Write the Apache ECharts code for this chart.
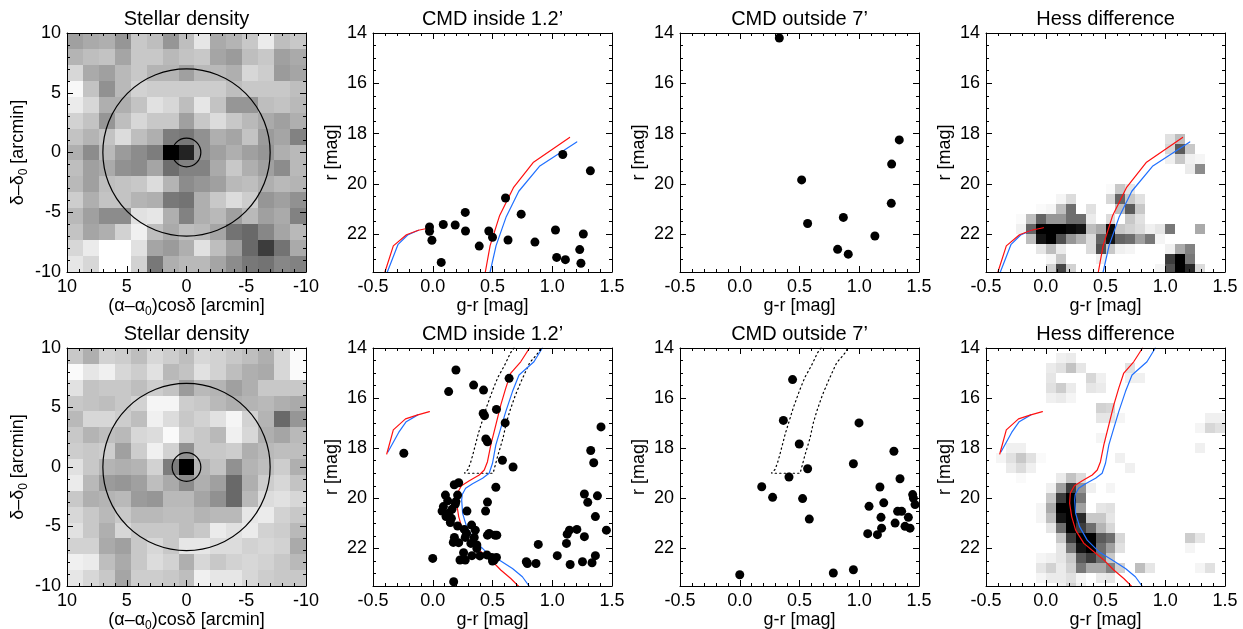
<!DOCTYPE html>
<html><head><meta charset="utf-8">
<script src="https://cdn.jsdelivr.net/npm/echarts@6.0.0/dist/echarts.min.js"></script>
<style>html,body{margin:0;padding:0;background:#fff}#c{width:1243px;height:629px}</style>
</head><body><div id="c"></div>
<script>
// ---------------- DATA ----------------
// stellar density maps: 15x15 cells over -10..10 arcmin, row 0 = top (delta=+10), col 0 = left (alpha=+10); values = density (darkness)
const densityTop = [
[95,85,80,105,55,65,105,65,25,85,75,55,20,65,55],
[75,65,60,90,55,55,70,60,55,90,100,65,55,95,85],
[40,85,95,70,55,75,75,95,70,70,80,40,50,100,90],
[7,60,110,70,45,50,50,50,50,50,65,55,55,55,65],
[20,40,80,80,60,30,40,65,25,60,105,105,65,60,70],
[45,60,105,65,40,55,55,95,55,35,55,70,85,95,80],
[60,75,60,35,65,80,130,135,110,80,90,60,100,90,125],
[80,115,70,100,115,130,255,220,110,95,80,95,105,80,70],
[65,95,85,110,115,90,145,125,125,85,55,80,95,115,70],
[70,95,65,60,55,35,75,115,105,95,70,65,80,70,75],
[50,80,60,60,75,80,135,140,80,55,35,50,105,95,110],
[70,95,115,115,30,25,80,125,80,70,95,70,95,85,125],
[60,90,80,45,15,65,85,65,70,90,140,150,120,90,70],
[40,20,0,0,30,90,100,80,30,65,95,150,195,140,85],
[25,40,0,0,45,135,80,70,70,90,115,135,140,120,125]
];
const densityBottom = [
[55,80,45,50,65,40,50,65,40,45,55,65,80,40,5],
[5,25,15,40,50,30,70,60,30,45,65,80,85,40,5],
[30,60,55,55,65,50,60,100,70,75,95,80,55,55,55],
[55,60,65,55,45,10,10,50,55,70,80,75,70,80,85],
[70,40,40,50,65,15,35,55,45,30,10,45,75,150,105],
[55,75,65,70,40,35,5,45,55,70,15,40,80,90,70],
[50,55,50,95,50,15,45,110,55,55,50,80,70,65,65],
[30,55,75,80,75,45,130,255,75,60,110,75,65,50,80],
[20,70,100,105,95,65,85,115,80,95,150,80,50,40,60],
[55,80,75,70,100,105,70,70,90,110,150,70,35,30,40],
[40,55,70,55,70,70,65,65,75,70,70,25,20,45,55],
[30,55,80,40,55,55,55,65,55,20,30,20,45,50,70],
[45,45,85,95,55,40,55,25,25,35,35,45,40,45,85],
[15,20,65,85,55,35,45,80,40,55,45,40,45,55,70],
[25,40,55,90,50,50,55,65,15,25,25,40,50,55,55]
];
const densityCircles = [[0, 0, 7], [0, 0, 1.2]];   // [x, y, radius arcmin]

// CMD stars [g-r, r]
const cmdInsideTop = [[1.088,18.83],[1.319,19.48],[0.609,20.56],[0.74,21.2],[0.272,21.13],[-0.027,21.71],[-0.027,21.88],[-0.007,22.24],[0.088,21.61],[0.188,21.63],[0.274,21.87],[0.071,23.12],[0.389,22.47],[0.469,21.87],[0.50,22.12],[0.63,22.23],[0.855,22.31],[1.027,21.83],[1.26,21.99],[1.037,22.92],[1.11,23.01],[1.23,22.61],[1.24,23.15]];
const cmdOutsideTop = [[0.331,14.2],[0.518,19.84],[0.568,21.57],[0.867,21.33],[0.819,22.6],[0.908,22.79],[1.131,22.07],[1.335,18.25],[1.271,19.21],[1.268,20.77]];
const cmdInsideBottom = [[0.194,14.88],[0.133,15.74],[0.342,15.48],[0.425,15.68],[0.639,15.21],[0.533,16.45],[0.422,16.61],[0.433,16.7],[0.606,16.99],[0.444,17.63],[0.458,17.74],[0.583,18.48],[0.672,18.75],[-0.242,18.2],[1.408,17.15],[1.322,18.09],[1.347,18.58],
[0.18,19.46],[0.217,19.38],[0.528,19.56],[0.106,19.87],[0.125,20.1],[0.208,19.87],[0.194,20.13],[0.189,20.23],[0.458,20.15],[0.089,20.33],[0.078,20.51],[0.161,20.44],[0.133,20.6],[0.111,20.73],[0.156,20.8],[0.147,20.97],[0.286,20.51],[0.442,20.51],[0.208,21.11],[0.264,21.24],[0.325,21.07],[0.356,21.27],[0.283,21.4],[0.272,21.56],[0.347,21.56],[0.181,21.56],[0.172,21.76],[0.217,21.77],[0.319,21.8],[0.369,21.86],[0.369,22.0],[0.458,21.47],[0.472,21.4],[0.52,21.47],[0.536,21.47],[0.258,22.17],[0.328,22.29],[0.394,22.3],[0.453,22.26],[0.494,22.36],[0.533,22.36],[0.5,22.5],[0.514,22.46],[0.228,22.46],[0.272,22.46],[0.0,22.4],[0.175,23.33],[0.883,21.84],[0.783,22.53],[0.792,22.6],[0.864,22.6],[1.042,22.29],[1.119,21.8],[1.125,21.43],[1.144,21.27],[1.206,21.24],[1.269,21.53],[1.15,22.64],[1.253,22.53],[1.333,22.57],[1.361,22.29],[1.453,21.27],[1.361,20.73],[1.269,19.83],[1.378,19.9],[1.297,20.16]];
const cmdOutsideBottom = [[0.442,15.26],[0.365,16.89],[0.498,17.83],[0.568,18.82],[0.412,19.15],[0.184,19.54],[0.275,19.96],[0.526,20.01],[0.582,20.83],[0.0,23.05],[0.783,22.98],[0.951,22.85],[0.998,16.99],[0.951,18.62],[1.29,18.12],[1.341,19.22],[1.173,19.55],[1.082,20.32],[1.205,20.18],[1.182,20.76],[1.187,21.19],[1.071,21.41],[1.152,21.45],[1.30,20.99],[1.321,20.52],[1.355,20.52],[1.383,21.12],[1.411,20.76],[1.425,21.19],[1.447,19.85],[1.453,19.99],[1.467,20.25]];

// isochrones [g-r, r]
const isoTopRedHB  = [[-0.40,23.5],[-0.33,22.46],[-0.22,22.02],[-0.12,21.84],[-0.02,21.74]];
const isoTopBlueHB = [[-0.38,23.5],[-0.29,22.4],[-0.21,22.03],[-0.12,21.84]];
const isoTopRedRGB  = [[0.44,23.5],[0.48,22.45],[0.56,21.25],[0.675,20.15],[0.84,19.15],[1.145,18.15]];
const isoTopBlueRGB = [[0.48,23.5],[0.53,22.45],[0.615,21.3],[0.72,20.29],[0.893,19.3],[1.205,18.33]];
const isoBotRedHB  = [[-0.385,18.23],[-0.33,17.27],[-0.228,16.83],[-0.125,16.67],[-0.028,16.54]];
const isoBotBlueHB = [[-0.375,18.15],[-0.285,17.37],[-0.222,16.94],[-0.125,16.67]];
const isoBotRedMS = [[0.81,14.0],[0.736,14.55],[0.653,15.0],[0.611,15.6],[0.569,16.28],[0.528,17.07],[0.486,17.87],[0.458,18.54],[0.431,18.87],[0.389,19.07],[0.306,19.3],[0.24,19.5],[0.205,19.8],[0.2,20.2],[0.217,20.73],[0.25,21.27],[0.319,21.8],[0.403,22.13],[0.486,22.46],[0.569,22.86],[0.653,23.2],[0.722,23.53]];
const isoBotBlueMS = [[0.917,14.0],[0.847,14.55],[0.722,15.08],[0.667,15.74],[0.611,16.54],[0.569,17.21],[0.528,17.87],[0.5,18.6],[0.472,19.0],[0.417,19.2],[0.333,19.42],[0.275,19.6],[0.247,19.85],[0.242,20.07],[0.25,20.6],[0.283,21.13],[0.347,21.67],[0.444,22.13],[0.556,22.46],[0.667,22.8],[0.75,23.13],[0.811,23.53]];
const selectionBox = [[0.68,14.0],[0.65,14.2],[0.60,14.7],[0.545,15.17],[0.50,15.7],[0.447,16.4],[0.415,16.9],[0.382,17.4],[0.355,17.9],[0.333,18.3],[0.315,18.6],[0.295,18.85],[0.265,19.0],
  [0.505,19.0],[0.546,18.27],[0.588,17.6],[0.615,17.0],[0.644,16.53],[0.69,15.9],[0.74,15.33],[0.81,14.6],[0.88,14.2],[0.905,14.0]];

// Hess difference cells [colorBin, magBin, density]; color bins of 1/12 mag from -0.5, mag bins of 0.4
const hessTop = [
[18,10,30],[19,10,65],
[18,11,40],[19,11,165],[20,11,55],
[18,12,15],[19,12,55],[20,12,15],[21,12,10],
[20,13,20],[21,13,115],
[12,15,5],[13,15,55],[14,15,25],
[7,16,10],[8,16,35],[12,16,40],[13,16,155],[14,16,55],[15,16,30],
[5,17,5],[6,17,10],[7,17,65],[8,17,145],[10,17,30],[13,17,65],[14,17,165],[15,17,55],
[3,18,5],[4,18,65],[5,18,155],[6,18,105],[7,18,105],[8,18,145],[9,18,145],[10,18,20],[12,18,35],[14,18,55],[15,18,30],
[3,19,15],[4,19,155],[5,19,255],[6,19,255],[7,19,255],[8,19,245],[9,19,235],[10,19,65],[11,19,85],[12,19,245],[13,19,55],[14,19,45],[15,19,35],[16,19,15],[17,19,25],[18,19,135],[21,19,85],
[4,20,65],[5,20,235],[6,20,255],[7,20,175],[8,20,105],[9,20,75],[10,20,35],[11,20,155],[12,20,235],[13,20,155],[14,20,145],[15,20,95],[16,20,135],[17,20,10],
[5,21,25],[6,21,65],[7,21,20],[10,21,35],[11,21,175],[12,21,55],[13,21,15],[14,21,10],[18,21,15],[19,21,85],[20,21,125],
[6,22,10],[7,22,55],[11,22,15],[18,22,195],[19,22,255],[20,22,135],
[6,23,45],[7,23,185],[8,23,45],[17,23,10],[18,23,175],[19,23,255],[20,23,215],[21,23,35]
];
const hessBottom = [
[7,1,15],[8,1,20],
[6,2,20],[7,2,30],[8,2,60],[9,2,25],[14,2,30],
[6,3,25],[10,3,40],[11,3,15],[14,3,15],[15,3,15],
[6,4,30],[7,4,50],[8,4,20],[10,4,25],[11,4,20],
[6,5,15],[7,5,20],[8,5,10],
[11,6,45],[12,6,40],
[11,7,25],[12,7,25],[13,7,10],[22,7,15],[23,7,15],
[21,8,10],[22,8,40],[23,8,30],
[11,9,10],
[2,10,15],[3,10,15],[21,10,15],
[1,11,10],[2,11,30],[3,11,55],[4,11,30],[5,11,5],[13,11,15],
[2,12,20],[3,12,35],[4,12,15],[14,12,15],
[3,13,5],[7,13,20],[8,13,60],[9,13,35],
[6,14,15],[7,14,95],[8,14,195],[9,14,105],[10,14,15],[12,14,10],
[6,15,55],[7,15,195],[8,15,255],[9,15,135],
[5,16,10],[6,16,85],[7,16,255],[8,16,255],[9,16,95],[11,16,25],[12,16,30],
[5,17,10],[6,17,65],[7,17,235],[8,17,255],[9,17,215],[10,17,55],[11,17,55],[12,17,25],
[6,18,25],[7,18,145],[8,18,255],[9,18,195],[10,18,145],[11,18,75],[12,18,40],
[7,19,55],[8,19,195],[9,19,255],[10,19,255],[11,19,165],[12,19,145],[13,19,40],[20,19,50],[21,19,25],
[7,20,25],[8,20,135],[9,20,235],[10,20,255],[11,20,145],[12,20,95],[13,20,30],[20,20,10],
[5,21,10],[6,21,15],[7,21,25],[8,21,55],[9,21,165],[10,21,195],[11,21,145],[12,21,55],
[5,22,25],[6,22,45],[7,22,20],[8,22,45],[9,22,135],[10,22,85],[11,22,85],[12,22,125],[13,22,45],[15,22,65],[16,22,25],[21,22,10],[22,22,30],
[5,23,10],[6,23,20],[7,23,20],[8,23,30],[9,23,10],[11,23,20],[12,23,25],
[7,24,15],[8,24,45],[9,24,15]
];

const titles = ['Stellar density', 'CMD inside 1.2\u2019', 'CMD outside 7\u2019', 'Hess difference'];
const densityTickValues = [10, 5, 0, -5, -10];
const cmdColorTicks = [-0.5, 0.0, 0.5, 1.0, 1.5];
const cmdMagTicks = [14, 16, 18, 20, 22];

// ---------------- LAYOUT / STYLE ----------------
const FONT = '"Liberation Sans", Arial, Helvetica, sans-serif';
const colLeft = [67, 373, 680, 986];
const rowTop = [33, 348];
const PW = 239, PH = 239;
const RED = '#ff1010', BLUE = '#2070ff';

const grids = [], xAxes = [], yAxes = [], series = [], titleComps = [];

function axisSet(list, base, gi, sides, majorInt, minorInt, labelOpt, nameOpt) {
  const idx = list.length;
  sides.forEach((side, si) => {
    [majorInt, minorInt].forEach((iv, mi) => {
      const primary = si === 0 && mi === 0;
      list.push(Object.assign({}, base, {
        gridIndex: gi, type: 'value', position: side, interval: iv, z: 10,
        axisLine: {show: mi === 0, onZero: false, lineStyle: {color: '#000', width: 1}},
        axisTick: {show: true, inside: true, length: mi === 0 ? 6 : 3, lineStyle: {color: '#000', width: 1}},
        minorTick: {show: false},
        splitLine: {show: false},
        axisLabel: primary ? labelOpt : {show: false},
        name: primary ? nameOpt.name : '',
        nameLocation: 'middle',
        nameGap: nameOpt.gap,
        nameTextStyle: nameOpt.style,
        silent: true
      }));
    });
  });
  return idx;
}

const labelStyle = {show: true, color: '#000', fontSize: 18, fontFamily: FONT, hideOverlap: false};
const nameStyle = {color: '#000', fontSize: 18, fontFamily: FONT,
  rich: {s: {fontSize: 12, fontFamily: FONT, color: '#000', verticalAlign: 'bottom', padding: [0, 0, -3, 0]}}};

function lineSeries(xi, yi, data, color, type) {
  series.push({type: 'line', xAxisIndex: xi, yAxisIndex: yi, data: data, showSymbol: false, symbol: 'none',
    lineStyle: {color: color, width: 1.2, type: type || 'solid', cap: 'round'}, clip: true, z: 4, silent: true, animation: false});
}
function scatterSeries(xi, yi, data) {
  series.push({type: 'scatter', xAxisIndex: xi, yAxisIndex: yi, data: data, symbol: 'circle', symbolSize: 9,
    itemStyle: {color: '#000', opacity: 1}, z: 5, silent: true, animation: false});
}
function cellSeries(xi, yi, data, w, h) {
  series.push({type: 'custom', xAxisIndex: xi, yAxisIndex: yi, data: data, z: 1, silent: true, animation: false,
    renderItem: function (params, api) {
      const x = api.value(0), y = api.value(1), v = api.value(2);
      const p1 = api.coord([x - w / 2, y - h / 2]);
      const p2 = api.coord([x + w / 2, y + h / 2]);
      const x0 = Math.round(Math.min(p1[0], p2[0])), x1 = Math.round(Math.max(p1[0], p2[0]));
      const y0 = Math.round(Math.min(p1[1], p2[1])), y1 = Math.round(Math.max(p1[1], p2[1]));
      const cs = params.coordSys;
      const r = echarts.graphic.clipRectByRect({x: x0, y: y0, width: x1 - x0, height: y1 - y0},
        {x: cs.x, y: cs.y, width: cs.width, height: cs.height});
      if (!r) return;
      const g = Math.max(0, Math.min(255, Math.round(255 - v)));
      return {type: 'rect', shape: r, style: {fill: 'rgb(' + g + ',' + g + ',' + g + ')', stroke: null}};
    }});
}
function circleSeries(xi, yi, data) {
  series.push({type: 'custom', xAxisIndex: xi, yAxisIndex: yi, data: data, z: 3, silent: true, animation: false,
    renderItem: function (params, api) {
      const c = api.coord([api.value(0), api.value(1)]);
      const r = Math.abs(api.size([api.value(2), 0])[0]);
      return {type: 'circle', shape: {cx: c[0], cy: c[1], r: r}, style: {fill: 'none', stroke: '#000', lineWidth: 1.2}};
    }});
}

const panels = [
  {row: 0, col: 0, kind: 'density', grid: densityTop},
  {row: 0, col: 1, kind: 'cmd', points: cmdInsideTop, iso: 'top'},
  {row: 0, col: 2, kind: 'cmd', points: cmdOutsideTop},
  {row: 0, col: 3, kind: 'hess', cells: hessTop, yBase: 14.0, iso: 'top'},
  {row: 1, col: 0, kind: 'density', grid: densityBottom},
  {row: 1, col: 1, kind: 'cmd', points: cmdInsideBottom, iso: 'bottom', box: true},
  {row: 1, col: 2, kind: 'cmd', points: cmdOutsideBottom, box: true},
  {row: 1, col: 3, kind: 'hess', cells: hessBottom, yBase: 13.8, iso: 'bottom'}
];

panels.forEach((p, gi) => {
  grids.push({left: colLeft[p.col], top: rowTop[p.row], width: PW, height: p.row === 0 ? PH : 238,
    show: false, containLabel: false, outerBoundsMode: 'none'});
  titleComps.push({text: titles[p.col], left: colLeft[p.col] + PW / 2, top: p.row === 0 ? 9 : 324,
    textAlign: 'center', padding: 0,
    textStyle: {fontSize: 20, fontWeight: 'normal', fontFamily: FONT, color: '#000'}});
  let xi, yi;
  if (p.kind === 'density') {
    xi = axisSet(xAxes, {min: -10, max: 10, inverse: true}, gi, ['bottom', 'top'], 5, 1,
      Object.assign({margin: 6, formatter: v => densityTickValues.indexOf(v) >= 0 ? String(v) : ''}, labelStyle),
      {name: '(\u03b1\u2013\u03b1{s|0})cos\u03b4 [arcmin]', gap: 20, style: nameStyle});
    yi = axisSet(yAxes, {min: -10, max: 10}, gi, ['left', 'right'], 5, 1,
      Object.assign({margin: 6, formatter: v => densityTickValues.indexOf(v) >= 0 ? String(v) : ''}, labelStyle),
      {name: '\u03b4\u2013\u03b4{s|0} [arcmin]', gap: 40, style: nameStyle});
    const cw = 20 / 15, cells = [];
    p.grid.forEach((rowArr, r) => rowArr.forEach((v, c) => cells.push([10 - (c + 0.5) * cw, 10 - (r + 0.5) * cw, v])));
    cellSeries(xi, yi, cells, cw, cw);
    circleSeries(xi, yi, densityCircles);
  } else {
    xi = axisSet(xAxes, {min: -0.5, max: 1.5}, gi, ['bottom', 'top'], 0.5, 0.1,
      Object.assign({margin: 6, formatter: v => cmdColorTicks.some(t => Math.abs(t - v) < 1e-6) ? v.toFixed(1) : ''}, labelStyle),
      {name: 'g-r [mag]', gap: 23, style: nameStyle});
    yi = axisSet(yAxes, {min: 14, max: 23.5, inverse: true}, gi, ['left', 'right'], 2, 0.5,
      Object.assign({margin: 6, formatter: v => cmdMagTicks.indexOf(v) >= 0 ? String(v) : ''}, labelStyle),
      {name: 'r [mag]', gap: 32, style: nameStyle});
    if (p.kind === 'hess') {
      const w = 1 / 12, h = 0.4;
      cellSeries(xi, yi, p.cells.map(c => [-0.5 + (c[0] + 0.5) * w, p.yBase + (c[1] + 0.5) * h, c[2]]), w, h);
    }
    if (p.box) lineSeries(xi, yi, selectionBox, '#000', [1.3, 3.2]);
    if (p.iso === 'top') {
      lineSeries(xi, yi, isoTopBlueHB, BLUE); lineSeries(xi, yi, isoTopRedHB, RED);
      lineSeries(xi, yi, isoTopBlueRGB, BLUE); lineSeries(xi, yi, isoTopRedRGB, RED);
    } else if (p.iso === 'bottom') {
      lineSeries(xi, yi, isoBotBlueHB, BLUE); lineSeries(xi, yi, isoBotRedHB, RED);
      lineSeries(xi, yi, isoBotBlueMS, BLUE); lineSeries(xi, yi, isoBotRedMS, RED);
    }
    if (p.points) scatterSeries(xi, yi, p.points);
  }
});

const chart = echarts.init(document.getElementById('c'), null, {renderer: 'canvas'});
chart.setOption({animation: false, backgroundColor: '#fff', title: titleComps, grid: grids,
  xAxis: xAxes, yAxis: yAxes, series: series, tooltip: {show: false}});
</script></body></html>
